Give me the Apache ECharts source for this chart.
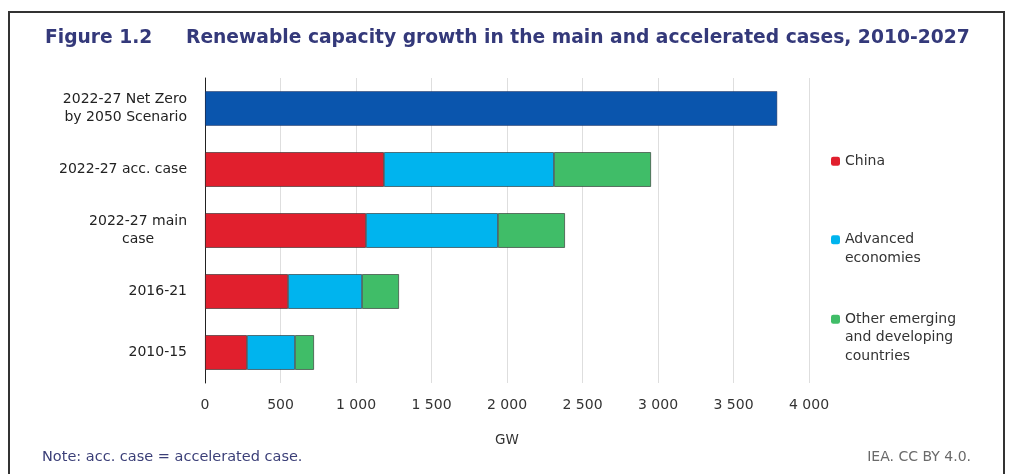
<!DOCTYPE html>
<html>
<head>
<meta charset="utf-8">
<script src="https://cdn.jsdelivr.net/npm/echarts@6/dist/echarts.min.js"></script>
<style>
html,body{margin:0;padding:0;background:#fff;}
#chart{width:1011px;height:474px;}
</style>
</head>
<body>
<div id="chart"></div>
<script>
// Categories (bottom to top)
const categories = ['2010-15', '2016-21', '2022-27 main case', '2022-27 acc. case', '2022-27 Net Zero by 2050 Scenario'];
// Series values (GW)
const china      = [278, 550, 1066, 1185, null];
const advanced   = [318, 490, 874, 1126, null];
const otherEmdes = [126, 245, 444, 643, null];
const netZero    = [null, null, null, null, 3790];
// Axis ticks
const xTicks = [0, 500, 1000, 1500, 2000, 2500, 3000, 3500, 4000];
const seriesNames = ['China', 'Advanced economies', 'Other emerging and developing countries'];
const legendText = {
  'China': 'China',
  'Advanced economies': '\nAdvanced\neconomies',
  'Other emerging and developing countries': '\n\nOther emerging\nand developing\ncountries'
};

const catLabels = {
  '2010-15': '2010-15',
  '2016-21': '2016-21',
  '2022-27 main case': '{r|2022-27 main}\n{c|case}',
  '2022-27 acc. case': '2022-27 acc. case',
  '2022-27 Net Zero by 2050 Scenario': '2022-27 Net Zero\nby 2050 Scenario'
};

const FONT = '"DejaVu Sans", "Liberation Sans", Arial, sans-serif';
const border = 'rgba(40,40,40,0.75)';
const LH = 18.5;

function fmt(v) {
  const s = String(v);
  return s.length > 3 ? s.slice(0, s.length - 3) + ' ' + s.slice(-3) : s;
}

function legendBlock(name, top) {
  return {
    data: [name],
    orient: 'vertical',
    left: 831,
    top: top,
    padding: 0,
    itemWidth: 9,
    itemHeight: 9,
    selectedMode: false,
    itemStyle: { borderWidth: 0 },
    formatter: n => legendText[n],
    textStyle: { fontFamily: FONT, fontSize: 14, color: '#333', lineHeight: LH }
  };
}

const chart = echarts.init(document.getElementById('chart'), null, { renderer: 'canvas' });
chart.setOption({
  backgroundColor: '#fff',
  animation: false,
  textStyle: { fontFamily: FONT },
  title: {
    text: '{a|Figure 1.2}{b|Renewable capacity growth in the main and accelerated cases, 2010-2027}',
    left: 40,
    top: 24,
    textStyle: {
      rich: {
        a: { fontFamily: FONT, fontSize: 18.7, fontWeight: 'bold', color: '#34397a', width: 141 },
        b: { fontFamily: FONT, fontSize: 18.7, fontWeight: 'bold', color: '#34397a' }
      }
    }
  },
  legend: [
    legendBlock(seriesNames[0], 152),
    legendBlock(seriesNames[1], 212),
    legendBlock(seriesNames[2], 273)
  ],
  grid: { left: 205, right: 202, top: 78, bottom: 91, containLabel: false },
  xAxis: {
    type: 'value',
    min: xTicks[0],
    max: xTicks[xTicks.length - 1],
    interval: 500,
    name: 'GW',
    nameLocation: 'middle',
    nameGap: 50,
    nameTextStyle: { fontFamily: FONT, fontSize: 13.5, color: '#333' },
    axisLine: { show: false },
    axisTick: { show: false },
    axisLabel: { margin: 15, fontFamily: FONT, fontSize: 14, color: '#333', formatter: fmt },
    splitLine: { show: true, lineStyle: { color: '#dedede', width: 1 } }
  },
  yAxis: {
    type: 'category',
    data: categories,
    axisLine: { show: true, lineStyle: { color: '#222', width: 1 } },
    axisTick: { show: false },
    axisLabel: {
      margin: 18,
      fontFamily: FONT,
      fontSize: 14,
      color: '#222',
      lineHeight: 18,
      formatter: v => catLabels[v] || v,
      rich: {
        r: { fontFamily: FONT, fontSize: 14, color: '#222', lineHeight: 18, align: 'right' },
        c: { fontFamily: FONT, fontSize: 14, color: '#222', lineHeight: 18, align: 'center' }
      }
    }
  },
  series: [
    { name: seriesNames[0], type: 'bar', stack: 'all', data: china, barCategoryGap: '43%',
      itemStyle: { color: '#e11f2d', borderColor: border, borderWidth: 0.8 } },
    { name: seriesNames[1], type: 'bar', stack: 'all', data: advanced,
      itemStyle: { color: '#00b4ee', borderColor: border, borderWidth: 0.8 } },
    { name: seriesNames[2], type: 'bar', stack: 'all', data: otherEmdes,
      itemStyle: { color: '#40bd68', borderColor: border, borderWidth: 0.8 } },
    { name: 'Net Zero', type: 'bar', stack: 'all', data: netZero,
      itemStyle: { color: '#0a55ad', borderColor: 'rgba(30,40,80,0.6)', borderWidth: 0.8 } }
  ],
  graphic: [
    { type: 'rect', shape: { x: 9, y: 12, width: 995, height: 480 },
      style: { fill: 'none', stroke: '#333', lineWidth: 2 }, silent: true },
    { type: 'text', left: 42, top: 450,
      style: { text: 'Note: acc. case = accelerated case.', fontFamily: FONT, fontSize: 14.5, fill: '#3b3f78' } },
    { type: 'text', right: 40, top: 450,
      style: { text: 'IEA. CC BY 4.0.', fontFamily: FONT, fontSize: 14, fill: '#6a6a6a' } }
  ]
});
</script>
</body>
</html>
